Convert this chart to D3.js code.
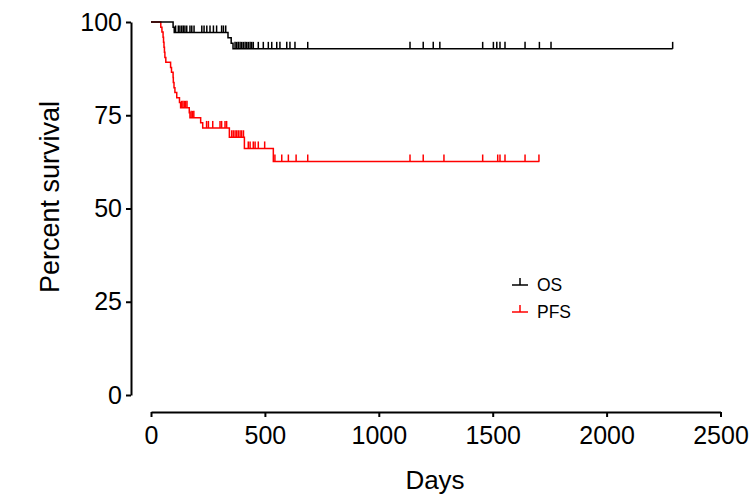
<!DOCTYPE html>
<html>
<head>
<meta charset="utf-8">
<script src="https://cdn.jsdelivr.net/npm/d3@7"></script>
<style>
  body { margin: 0; background: #fff; }
  text { font-family: "Liberation Sans", Arial, Helvetica, sans-serif; }
</style>
</head>
<body>
<script>
// step times (days) and survival after each step
var osTimes  = [97, 102, 338, 352, 360];
var osValues = [98.6, 97.2, 95.8, 94.3, 92.8];
var osCensor = [108, 120, 127, 135, 142, 149, 157, 171, 179, 189, 223, 233, 245, 259, 274, 288, 310, 318, 328,
                369, 376, 383, 391, 398, 405, 413, 420, 427, 435, 442, 449, 471, 493, 515, 530, 552, 566, 596, 610, 632, 688,
                1137, 1195, 1239, 1268, 1456, 1503, 1518, 1532, 1554, 1642, 1705, 1756, 2290];
var osEnd = 2290;

var pfsTimes  = [43, 48, 53, 55, 57, 59, 61, 65, 86, 90, 97, 98, 101, 105, 113, 125, 130, 168, 171, 218, 227, 344, 410, 537];
var pfsValues = [98.6, 97.3, 95.9, 94.6, 93.2, 91.9, 90.5, 89.2, 87.8, 86.5, 85.1, 83.8, 82.4, 81.1, 79.7, 78.4, 77.0,
                 75.7, 74.3, 73.0, 71.6, 69.1, 66.1, 62.6];
var pfsCensor = [134, 140, 146, 152, 158, 176, 182, 188, 244, 252, 271, 303, 310, 325, 332,
                 354, 361, 369, 376, 383, 391, 398, 406, 427, 435, 449, 457, 471, 499,
                 544, 574, 603, 637, 688, 1137, 1195, 1286, 1456, 1522, 1532, 1554, 1642, 1703];
var pfsEnd = 1705;

var xTicks = [0, 500, 1000, 1500, 2000, 2500];
var yTicks = [0, 25, 50, 75, 100];
var seriesNames = ["OS", "PFS"];
var seriesColors = ["#000000", "#ff0000"];

var width = 752, height = 496;
var svg = d3.select('body').append('svg').attr('width', width).attr('height', height);

var x = d3.scaleLinear().domain([0, 2500]).range([151, 720.5]);
var y = d3.scaleLinear().domain([0, 100]).range([395, 22]);

function stepPoints(times, values, end) {
  var pts = [[0, 100]], s = 100;
  times.forEach(function(t, i){ pts.push([t, s]); s = values[i]; pts.push([t, s]); });
  pts.push([end, s]);
  return pts;
}
function survAt(times, values, t) {
  var s = 100;
  times.forEach(function(tt, i){ if (tt <= t) s = values[i]; });
  return s;
}

var line = d3.line()
  .x(function(d){ return x(d[0]); })
  .y(function(d){ return y(d[1]); });

var series = [
  {times: pfsTimes, values: pfsValues, censor: pfsCensor, end: pfsEnd, color: seriesColors[1]},
  {times: osTimes, values: osValues, censor: osCensor, end: osEnd, color: seriesColors[0]}
];

series.forEach(function(s){
  var g = svg.append('g');
  g.append('path')
    .attr('d', line(stepPoints(s.times, s.values, s.end)))
    .attr('fill', 'none').attr('stroke', s.color).attr('stroke-width', 1.5);
  g.selectAll('line.cens').data(s.censor).enter().append('line')
    .attr('class', 'cens')
    .attr('x1', function(d){ return x(d); }).attr('x2', function(d){ return x(d); })
    .attr('y1', function(d){ return y(survAt(s.times, s.values, d)); })
    .attr('y2', function(d){ return y(survAt(s.times, s.values, d)) - 7; })
    .attr('stroke', s.color).attr('stroke-width', 1.5);
});

// axes
var yAxis = d3.axisLeft(y).tickValues(yTicks).tickSize(5).tickSizeOuter(0).tickPadding(4);
var xAxis = d3.axisBottom(x).tickValues(xTicks).tickFormat(d3.format('d'))
  .tickSize(5).tickSizeOuter(0).tickPadding(9);

var yg = svg.append('g').attr('transform', 'translate(131,0)').call(yAxis);
var xg = svg.append('g').attr('transform', 'translate(0,412)').call(xAxis);
[yg, xg].forEach(function(g){
  g.select('.domain').attr('stroke', '#000').attr('stroke-width', 2);
  g.selectAll('.tick line').attr('stroke', '#000').attr('stroke-width', 2);
  g.selectAll('.tick text').attr('fill', '#000').style('font-size', '25px')
    .style('font-family', '"Liberation Sans", Arial, sans-serif');
});

svg.append('text').attr('x', 435).attr('y', 489).attr('text-anchor', 'middle')
  .style('font-size', '26px').text('Days');
svg.append('text').attr('transform', 'translate(59,197) rotate(-90)').attr('text-anchor', 'middle')
  .style('font-size', '27px').text('Percent survival');

// legend
var legend = svg.append('g').attr('transform', 'translate(512,285)');
seriesNames.forEach(function(name, i){
  var lg = legend.append('g').attr('transform', 'translate(0,' + (i * 27) + ')');
  lg.append('line').attr('x1', 0).attr('x2', 16).attr('y1', 0).attr('y2', 0)
    .attr('stroke', seriesColors[i]).attr('stroke-width', 1.5);
  lg.append('line').attr('x1', 8).attr('x2', 8).attr('y1', 0).attr('y2', -7)
    .attr('stroke', seriesColors[i]).attr('stroke-width', 1.5);
  lg.append('text').attr('x', 25).attr('y', 6).style('font-size', '17.5px').text(name);
});
</script>
</body>
</html>
